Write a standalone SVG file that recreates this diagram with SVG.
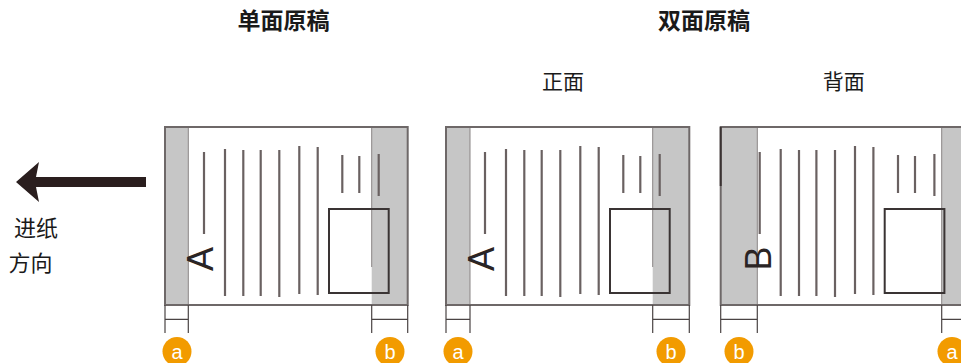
<svg xmlns="http://www.w3.org/2000/svg" xmlns:xlink="http://www.w3.org/1999/xlink" width="961" height="363" viewBox="0 0 961 363">
<style>
.title{font-family:"Noto Sans CJK SC","Liberation Sans",sans-serif;font-size:23px;font-weight:bold;fill:#1a1a1a;text-anchor:middle}
.label{font-family:"Noto Sans CJK SC","Liberation Sans",sans-serif;font-size:21px;fill:#1a1a1a;text-anchor:middle}
.side{font-family:"Noto Sans CJK SC","Liberation Sans",sans-serif;font-size:22px;fill:#1a1a1a;text-anchor:middle}
.paper{fill:#ffffff}
.band{fill:#c6c6c6}
.edge{fill:none;stroke:#6e6868;stroke-width:2}
.bandedge{stroke:#8a8585;stroke-width:1}
.tl{stroke:#6a6161;stroke-width:2.2}
.box{fill:none;stroke:#3a3434;stroke-width:2}
.dim{stroke:#4a4444;stroke-width:1.2;fill:none}
.big{font-family:"Liberation Sans","DejaVu Sans",sans-serif;font-size:36px;fill:#2a2424;text-anchor:middle}
.mk{fill:#f29b00}
.mkt{font-family:"Liberation Sans","DejaVu Sans",sans-serif;font-size:20px;fill:#ffffff;text-anchor:middle}
</style>
<defs>
<g id="content">
<line class="tl" x1="39" y1="152" x2="39" y2="234"/>
<line class="tl" x1="60" y1="149" x2="60" y2="296"/>
<line class="tl" x1="78.3" y1="150" x2="78.3" y2="296"/>
<line class="tl" x1="95.7" y1="150" x2="95.7" y2="296"/>
<line class="tl" x1="114.3" y1="150" x2="114.3" y2="297"/>
<line class="tl" x1="134.3" y1="146" x2="134.3" y2="294"/>
<line class="tl" x1="152.7" y1="147" x2="152.7" y2="295"/>
<line class="tl" x1="177.3" y1="155" x2="177.3" y2="193"/>
<line class="tl" x1="194.3" y1="156" x2="194.3" y2="193"/>
<line class="tl" x1="213.7" y1="154" x2="213.7" y2="196"/>
<rect class="box" x="164" y="209" width="59.7" height="84"/>
</g>
</defs>

<g id="titles">
<text class="title" x="283.5" y="29">单面原稿</text>
<text class="title" x="704" y="29">双面原稿</text>
<text class="label" x="563" y="88.5">正面</text>
<text class="label" x="843.7" y="88.5">背面</text>
</g>

<g id="feed-direction">
<polygon fill="#2a1e1e" points="16,182 39,162 36,177 146,177 146,187 36,187 39,202"/>
<text class="side" x="36" y="236">进纸</text>
<text class="side" x="30.5" y="271">方向</text>
</g>

<g id="single-sided">
<rect class="paper" x="165" y="127" width="242.7" height="178"/>
<rect class="band" x="165" y="127" width="23.3" height="178"/>
<rect class="band" x="371.7" y="127" width="36" height="178"/>
<line class="bandedge" x1="188.3" y1="127" x2="188.3" y2="305"/>
<line class="bandedge" x1="371.7" y1="127" x2="371.7" y2="267"/>
<use xlink:href="#content" href="#content" transform="translate(165,0)"/>
<text class="big" transform="translate(213,259) rotate(-90)">A</text>
<rect class="edge" x="165" y="127" width="242.7" height="178"/>
</g>

<g id="front-side">
<rect class="paper" x="446" y="127" width="243.3" height="178"/>
<rect class="band" x="446" y="127" width="24" height="178"/>
<rect class="band" x="652.7" y="127" width="36.6" height="178"/>
<line class="bandedge" x1="470" y1="127" x2="470" y2="305"/>
<line class="bandedge" x1="652.7" y1="127" x2="652.7" y2="267"/>
<use xlink:href="#content" href="#content" transform="translate(446,0)"/>
<text class="big" transform="translate(494,259) rotate(-90)">A</text>
<rect class="edge" x="446" y="127" width="243.3" height="178"/>
</g>

<g id="back-side">
<rect class="paper" x="720.7" y="127" width="243" height="178"/>
<rect class="band" x="720.7" y="127" width="36.6" height="178"/>
<rect class="band" x="941.7" y="127" width="22" height="178"/>
<line class="bandedge" x1="757.3" y1="127" x2="757.3" y2="305"/>
<line class="bandedge" x1="941.7" y1="127" x2="941.7" y2="305"/>
<use xlink:href="#content" href="#content" transform="translate(720.7,0)"/>
<text class="big" transform="translate(771,258.5) rotate(-90)">B</text>
<rect class="edge" x="720.7" y="127" width="243" height="178"/>
<line stroke="#3a3232" stroke-width="2" x1="720.7" y1="127" x2="720.7" y2="186"/>
</g>

<g id="connectors">
<path class="dim" d="M165,305V333M188.3,305V333M165,319.3H188.3M371.7,305V333M407.7,305V333M371.7,319.3H407.7"/>
<path class="dim" d="M446,305V333M470,305V333M446,319.3H470M652.7,305V333M689.3,305V333M652.7,319.3H689.3"/>
<path class="dim" d="M720.7,305V333M757.3,305V333M720.7,319.3H757.3M941.7,305V333M941.7,319.3H961"/>
</g>

<g id="markers">
<circle class="mk" cx="177" cy="351.5" r="14.5"/><text class="mkt" x="177" y="358.5">a</text>
<circle class="mk" cx="390" cy="351.5" r="14.5"/><text class="mkt" x="390" y="358.5">b</text>
<circle class="mk" cx="458" cy="351.5" r="14.5"/><text class="mkt" x="458" y="358.5">a</text>
<circle class="mk" cx="671" cy="351.5" r="14.5"/><text class="mkt" x="671" y="358.5">b</text>
<circle class="mk" cx="739" cy="351.5" r="14.5"/><text class="mkt" x="739" y="358.5">b</text>
<circle class="mk" cx="952" cy="351.5" r="14.5"/><text class="mkt" x="952" y="358.5">a</text>
</g>
</svg>
